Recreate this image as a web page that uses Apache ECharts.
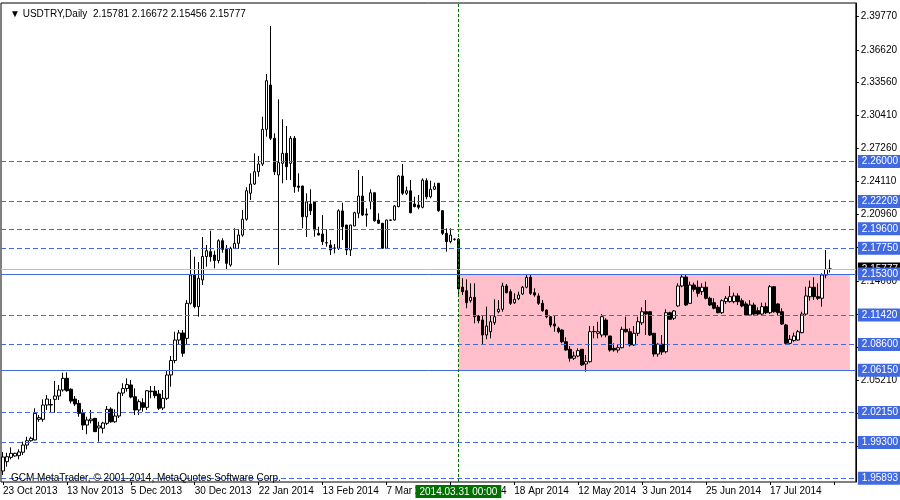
<!DOCTYPE html>
<html><head><meta charset="utf-8">
<script src="https://cdn.jsdelivr.net/npm/echarts@6.0.0/dist/echarts.min.js"></script>
<style>html,body{margin:0;padding:0;background:#fff}#c{width:900px;height:500px}</style>
</head><body><div id="c"></div><script>
const tickLabels = ['23 Oct 2013','13 Nov 2013','5 Dec 2013','30 Dec 2013','22 Jan 2014','13 Feb 2014','7 Mar 2014','27 Mar 2014','18 Apr 2014','12 May 2014','3 Jun 2014','25 Jun 2014','17 Jul 2014'];
const opens = [1.9658,1.9747,1.9788,1.9801,1.9804,1.9836,1.9905,1.9946,1.9953,2.0149,2.0149,2.0285,2.0285,2.0339,2.0371,2.0428,2.0539,2.0435,2.0342,2.0301,2.0206,2.0095,2.0136,2.0159,2.0067,2.0064,2.0111,2.0247,2.0126,2.0181,2.0399,2.0442,2.0476,2.0364,2.0238,2.0307,2.0263,2.0412,2.0418,2.0390,2.0257,2.0349,2.0571,2.0708,2.0903,2.0970,2.0919,2.1252,2.1521,2.1220,2.1474,2.1697,2.1743,2.1711,2.1659,2.1847,2.1765,2.1616,2.1775,2.1822,2.1901,2.2051,2.2298,2.2386,2.2503,2.2576,2.2906,2.3327,2.2821,2.2472,2.2583,2.2678,2.2583,2.2821,2.2367,2.2367,2.2075,2.2196,2.2218,2.1917,2.1911,2.1828,2.1806,2.1778,2.1775,2.2130,2.1996,2.1759,2.1987,2.2108,2.2272,2.2101,2.2218,2.2303,2.2044,2.2013,2.1775,2.2044,2.2044,2.2171,2.2462,2.2298,2.2322,2.2196,2.2186,2.2165,2.2418,2.2265,2.2336,2.2393,2.2132,2.1917,2.1838,2.1861,2.1861,2.1405,2.1372,2.1277,2.1309,2.1131,2.1093,2.0951,2.0982,2.1068,2.1172,2.1195,2.1417,2.1363,2.1258,2.1296,2.1341,2.1405,2.1499,2.1353,2.1322,2.1252,2.1188,2.1125,2.1056,2.1014,2.0998,2.0887,2.0815,2.0730,2.0751,2.0815,2.0675,2.0697,2.0982,2.0967,2.0951,2.1093,2.0941,2.0824,2.0808,2.0830,2.1005,2.0982,2.0856,2.0967,2.1067,2.1172,2.1172,2.0967,2.0770,2.0863,2.0792,2.1163,2.1110,2.1227,2.1417,2.1502,2.1252,2.1426,2.1405,2.1363,2.1405,2.1300,2.1258,2.1214,2.1163,2.1268,2.1268,2.1268,2.1322,2.1277,2.1246,2.1141,2.1236,2.1182,2.1150,2.1220,2.1163,2.1410,2.1246,2.1172,2.1046,2.0872,2.0897,2.0903,2.0973,2.1150,2.1315,2.1405,2.1315,2.1300,2.1521,2.15781];
const closes = [1.9791,1.9794,1.9826,1.9826,1.9839,1.9905,1.9946,1.9969,2.0206,2.0165,2.0285,2.0342,2.0290,2.0371,2.0428,2.0539,2.0421,2.0323,2.0295,2.0206,2.0095,2.0143,2.0152,2.0032,2.0086,2.0114,2.0244,2.0126,2.0181,2.0399,2.0442,2.0480,2.0361,2.0238,2.0317,2.0263,2.0421,2.0418,2.0374,2.0254,2.0349,2.0571,2.0708,2.0903,2.0970,2.0777,2.1252,2.1521,2.1220,2.1490,2.1697,2.1752,2.1695,2.1659,2.1847,2.1765,2.1632,2.1775,2.1822,2.1901,2.2051,2.2322,2.2386,2.2503,2.2576,2.2906,2.3368,2.2821,2.2503,2.2589,2.2678,2.2551,2.2821,2.2361,2.2355,2.2075,2.2215,2.2132,2.1949,2.1901,2.1838,2.1826,2.1759,2.1776,2.2132,2.1980,2.1759,2.1996,2.2113,2.2272,2.2091,2.2091,2.2303,2.2037,2.2013,2.1775,2.2044,2.2042,2.2177,2.2462,2.2298,2.2322,2.2113,2.2171,2.2165,2.2424,2.2265,2.2336,2.2361,2.2132,2.1917,2.1838,2.1901,2.1860,2.1388,2.1363,2.1258,2.1309,2.1125,2.1087,2.0951,2.1036,2.1077,2.1125,2.1195,2.1417,2.1353,2.1252,2.1290,2.1331,2.1405,2.1499,2.1347,2.1331,2.1252,2.1182,2.1125,2.1046,2.1036,2.0982,2.0887,2.0808,2.0730,2.0751,2.0802,2.0666,2.0697,2.0982,2.0985,2.0982,2.1125,2.0951,2.0808,2.0808,2.0830,2.1005,2.0982,2.0856,2.0967,2.1077,2.1172,2.1150,2.0951,2.0770,2.0863,2.0789,2.1163,2.1100,2.1179,2.1417,2.1502,2.1236,2.1426,2.1385,2.1347,2.1405,2.1300,2.1236,2.1205,2.1163,2.1277,2.1300,2.1315,2.1322,2.1268,2.1227,2.1141,2.1236,2.1150,2.1150,2.1220,2.1163,2.1410,2.1172,2.1163,2.1055,2.0872,2.0910,2.0941,2.0982,2.1150,2.1322,2.1405,2.1315,2.1300,2.1521,2.1575,2.15777];
const lows = [1.9620,1.9699,1.9769,1.9794,1.9769,1.9810,1.9864,1.9937,1.9950,2.0126,2.0126,2.0238,2.0212,2.0212,2.0333,2.0412,2.0412,2.0301,2.0276,2.0174,2.0048,2.0007,2.0111,2.0029,1.9937,2.0016,2.0095,2.0117,2.0117,2.0162,2.0371,2.0412,2.0349,2.0190,2.0190,2.0222,2.0238,2.0349,2.0349,2.0238,2.0238,2.0333,2.0459,2.0682,2.0856,2.0745,2.0856,2.1240,2.1205,2.1125,2.1426,2.1600,2.1648,2.1585,2.1632,2.1733,2.1569,2.1600,2.1770,2.1770,2.1885,2.2037,2.2234,2.2377,2.2456,2.2557,2.2836,2.2804,2.2472,2.1616,2.2393,2.2424,2.2424,2.2303,2.2313,2.1965,2.1882,2.2091,2.1885,2.1898,2.1806,2.1790,2.1711,2.1727,2.1759,2.1854,2.1711,2.1702,2.1985,2.2060,2.2082,2.1980,2.2146,2.2028,2.2006,2.1770,2.1770,2.2035,2.2037,2.2165,2.2282,2.2282,2.2108,2.2165,2.2146,2.2155,2.2241,2.2250,2.2329,2.2123,2.1901,2.1743,2.1822,2.1847,2.1331,2.1331,2.1205,2.1258,2.1062,2.1062,2.0865,2.0910,2.0919,2.1046,2.1157,2.1172,2.1347,2.1236,2.1246,2.1283,2.1331,2.1395,2.1331,2.1315,2.1236,2.1172,2.1110,2.1024,2.0982,2.0967,2.0872,2.0802,2.0697,2.0713,2.0739,2.0656,2.0602,2.0688,2.0919,2.0919,2.0929,2.0929,2.0792,2.0792,2.0783,2.0824,2.0973,2.0840,2.0846,2.0941,2.1046,2.0951,2.0941,2.0745,2.0745,2.0761,2.0777,2.1093,2.1093,2.1220,2.1405,2.1227,2.1246,2.1363,2.1315,2.1331,2.1290,2.1227,2.1195,2.1157,2.1150,2.1246,2.1258,2.1252,2.1236,2.1214,2.1131,2.1131,2.1141,2.1141,2.1141,2.1150,2.1150,2.1163,2.1141,2.1046,2.0856,2.0865,2.0887,2.0897,2.0967,2.1141,2.1277,2.1283,2.1283,2.1220,2.1490,2.15456];
const highs = [1.9839,1.9832,1.9883,1.9832,1.9864,1.9937,1.9984,1.9984,2.0254,2.0190,2.0339,2.0380,2.0342,2.0514,2.0476,2.0593,2.0596,2.0444,2.0371,2.0333,2.0244,2.0174,2.0238,2.0162,2.0126,2.0126,2.0276,2.0263,2.0244,2.0412,2.0492,2.0539,2.0523,2.0444,2.0339,2.0349,2.0428,2.0466,2.0466,2.0428,2.0428,2.0618,2.0751,2.0982,2.0998,2.0998,2.1283,2.1759,2.1695,2.1645,2.1882,2.1806,2.1942,2.1752,2.1861,2.1870,2.1806,2.1790,2.1965,2.1956,2.2139,2.2355,2.2488,2.2678,2.2652,2.3026,2.3432,2.3888,2.2868,2.3191,2.3001,2.2937,2.2842,2.2842,2.2488,2.2370,2.2298,2.2336,2.2220,2.1980,2.2091,2.1956,2.1854,2.1816,2.2146,2.2208,2.1998,2.1999,2.2123,2.2519,2.2462,2.2155,2.2336,2.2306,2.2108,2.2016,2.2047,2.2047,2.2186,2.2472,2.2576,2.2361,2.2424,2.2265,2.2282,2.2440,2.2440,2.2418,2.2399,2.2396,2.2139,2.1965,2.1965,2.1870,2.1873,2.1490,2.1480,2.1442,2.1442,2.1141,2.1131,2.1220,2.1141,2.1290,2.1283,2.1448,2.1436,2.1385,2.1347,2.1363,2.1417,2.1521,2.1521,2.1395,2.1347,2.1283,2.1195,2.1131,2.1131,2.1030,2.1005,2.0929,2.0846,2.0792,2.0824,2.0817,2.0761,2.1036,2.1036,2.1077,2.1150,2.1110,2.0944,2.0872,2.0856,2.1030,2.1125,2.1014,2.1036,2.1125,2.1214,2.1283,2.1174,2.0970,2.0872,2.0951,2.1195,2.1172,2.1188,2.1442,2.1531,2.1531,2.1458,2.1448,2.1468,2.1442,2.1458,2.1315,2.1300,2.1236,2.1290,2.1322,2.1417,2.1353,2.1347,2.1300,2.1268,2.1283,2.1258,2.1214,2.1258,2.1258,2.1426,2.1417,2.1252,2.1205,2.1056,2.0951,2.0973,2.0998,2.1172,2.1410,2.1468,2.1499,2.1442,2.1537,2.1759,2.16672];
const priceTicks = [2.39770,2.36620,2.33560,2.30410,2.27260,2.24110,2.20960,2.17810,2.14660,2.11510,2.08360,2.05210,2.02060,1.98910];
const dashedLevels = [2.26000,2.22209,2.19600,2.17750,2.11420,2.08600,2.02150,1.99300,1.95893];
const solidLevels = [2.15300,2.06150];
const lastPrice = 2.15777;
const zoneLow = 2.06150, zoneHigh = 2.15300;
const zoneFrom = 114, zoneTo = 212;
const vLineIndex = 114;
const vLineText = '2014.03.31 00:00';
const headerText = '\u25BC USDTRY,Daily  2.15781 2.16672 2.15456 2.15777';
const footerText = 'GCM MetaTrader, \u00A9 2001-2014, MetaQuotes Software Corp.';
const slotCount = 214;
const barsPerLabel = 16;

const FONT = 'Liberation Sans';
const categories = Array.from({length: slotCount}, (_, i) => String(i));
const candles = opens.map((o, i) => [o, closes[i], lows[i], highs[i]]);
const BLUE = '#4169E1';
const boxLabel = (bg, val) => ({
  show: true, position: 'end', distance: 2, formatter: () => val.toFixed(5),
  backgroundColor: bg, color: '#fff', fontFamily: FONT, fontSize: 10,
  padding: [2, 6, 1, 4]
});

const chart = echarts.init(document.getElementById('c'), null, {renderer: 'canvas'});
chart.setOption({
  animation: false,
  backgroundColor: '#fff',
  title: [
    {text: headerText, left: 5, top: 4, textStyle: {fontFamily: FONT, fontSize: 10, fontWeight: 'normal', color: '#000'}},
    {text: footerText, left: 6, top: 468, textStyle: {fontFamily: FONT, fontSize: 10, fontWeight: 'normal', color: '#000'}}
  ],
  grid: {left: 1, top: 3, width: 856, height: 479, show: true, borderColor: '#000', borderWidth: 1, backgroundColor: 'transparent'},
  xAxis: {
    type: 'category', data: categories, boundaryGap: true,
    axisLine: {show: false},
    axisTick: {show: true, interval: barsPerLabel - 1, alignWithLabel: true, length: 3, lineStyle: {color: '#000'}},
    axisLabel: {interval: barsPerLabel - 1, align: 'left', margin: 4, fontFamily: FONT, fontSize: 10, color: '#000',
      formatter: (v, idx) => tickLabels[Math.round(idx / barsPerLabel)] || ''},
    splitLine: {show: false}
  },
  yAxis: {
    type: 'value', position: 'right', min: 1.95535, max: 2.41067, scale: true,
    axisLine: {show: true, lineStyle: {color: '#000'}},
    axisTick: {show: true, customValues: priceTicks, length: 3, lineStyle: {color: '#000'}},
    axisLabel: {customValues: priceTicks, margin: 5, fontFamily: FONT, fontSize: 10, color: '#000', formatter: (v) => v.toFixed(5)},
    splitLine: {show: false}
  },
  series: [
    {
      type: 'line', data: [], z: 1, silent: true,
      markArea: {silent: true, precision: 5, itemStyle: {color: '#FFC0CB'},
        data: [[{xAxis: zoneFrom, yAxis: zoneHigh}, {xAxis: zoneTo, yAxis: zoneLow}]]},
      markLine: {silent: true, precision: 5, symbol: ['none', 'none'], animation: false,
        data: [{yAxis: lastPrice, lineStyle: {color: '#C0C0C0', type: 'solid', width: 1}, label: boxLabel('#000', lastPrice)}]}
    },
    {
      type: 'line', data: [], z: 2, silent: true,
      markLine: {silent: true, precision: 5, symbol: ['none', 'none'], animation: false,
        data: [
          ...dashedLevels.map(v => ({yAxis: v, lineStyle: {color: BLUE, type: [5, 3], width: 1}, label: boxLabel(BLUE, v)})),
          ...solidLevels.map(v => ({yAxis: v, lineStyle: {color: BLUE, type: 'solid', width: 1}, label: boxLabel(BLUE, v)})),
          {xAxis: vLineIndex, lineStyle: {color: '#007000', type: [3, 2], width: 1},
            label: {show: true, position: 'start', distance: 3, formatter: vLineText, backgroundColor: '#007000', color: '#fff', fontFamily: FONT, fontSize: 10, padding: [2, 4, 1, 4]}}
        ]}
    },
    {
      type: 'candlestick', data: candles, z: 3, barWidth: 3,
      itemStyle: {color: '#fff', color0: '#000', borderColor: '#000', borderColor0: '#000', borderColorDoji: '#000', borderWidth: 1}
    }
  ]
});
</script></body></html>
